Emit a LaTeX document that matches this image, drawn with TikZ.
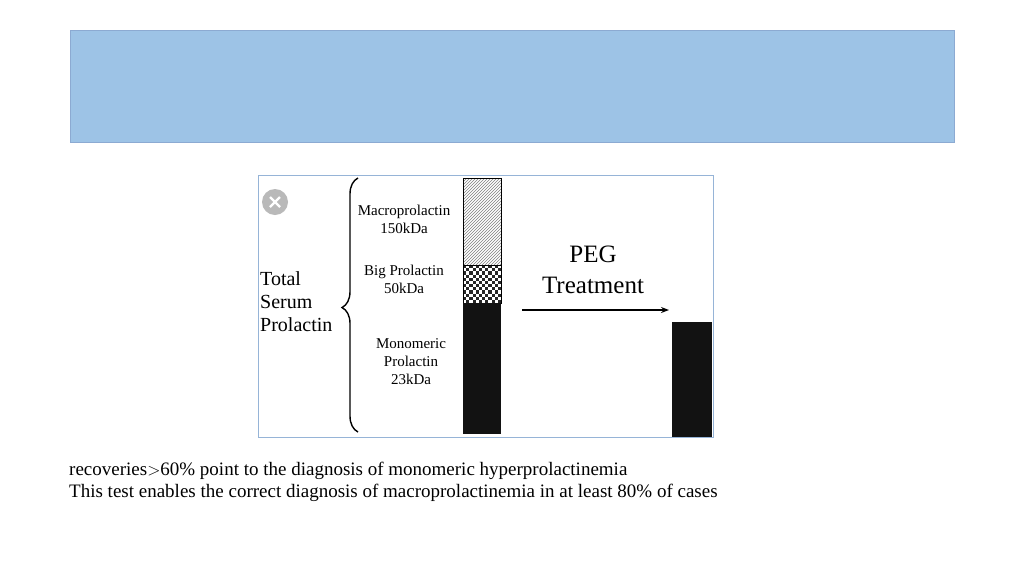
\documentclass[tikz,border=0pt]{standalone}
\usepackage{fontspec}
\setmainfont{Liberation Serif}
\usetikzlibrary{patterns,decorations.pathreplacing,arrows.meta}
\begin{document}
\begin{tikzpicture}[x=1pt,y=-1pt,
  lab/.style={align=center,font=\fontsize{15}{18}\selectfont,inner sep=0},
  big/.style={align=left,font=\fontsize{20}{23}\selectfont,inner sep=0,anchor=west}]
\path[use as bounding box] (0,0) rectangle (1024,576);
\fill[white] (0,0) rectangle (1024,576);
\node[draw={rgb,255:red,140;green,170;blue,210},minimum width=884,minimum height=112,anchor=north west,inner sep=0,fill={rgb,255:red,157;green,195;blue,230}] (banner) at (70,30) {};
\node[draw={rgb,255:red,150;green,180;blue,215},line width=1.2,minimum width=455,minimum height=262,anchor=north west,inner sep=0] (frame) at (258,175) {};
\fill[gray!55] (275,202) circle (13);
\draw[white,line width=2.2] (270,197) -- (280,207) (280,197) -- (270,207);
\node[big] (total) at (260,302) {Total\\Serum\\Prolactin};
\draw[decorate,decoration={brace,amplitude=16pt,aspect=0.49},line width=1.4] (358,432) -- (358,178);
\node[lab] (macro) at (404,219) {Macroprolactin\\150kDa};
\node[lab] (bigp) at (404,279) {Big Prolactin\\50kDa};
\node[lab] (mono) at (411,362) {Monomeric\\Prolactin\\23kDa};
\node[draw=black,pattern=north east lines,pattern color=gray,minimum width=38,minimum height=87,anchor=north west,inner sep=0] (hatch) at (463,178) {};
\fill[white] (463,265) rectangle (501,303);
\foreach \i in {0,...,11}{\foreach \j in {0,...,11}{
  \pgfmathparse{int(mod(\i+\j,2))}
  \ifnum\pgfmathresult=0 \fill[black!85] ({463+\i*38/12},{265+\j*38/12}) rectangle ++(38/12,38/12);\fi}}
\node[draw=black,minimum width=38,minimum height=38,anchor=north west,inner sep=0] (check) at (463,265) {};
\node[fill=black!93,minimum width=38,minimum height=131,anchor=north west,inner sep=0] (black1) at (463,303) {};
\node[align=center,font=\fontsize{25}{31}\selectfont,inner sep=0] (peg) at (593,270) {PEG\\Treatment};
\coordinate (a1) at (522,310);
\coordinate (a2) at (669,310);
\draw[line width=1.5,-{Stealth[length=8pt,width=6pt]}] (a1) -- (a2);
\node[fill=black!93,minimum width=40,minimum height=115,anchor=north west,inner sep=0] (black2) at (672,322) {};
\node[anchor=west,align=left,font=\fontsize{19}{22}\selectfont,inner sep=0] (txt) at (69,482) {recoveries$>$60\% point to the diagnosis of monomeric hyperprolactinemia\\This test enables the correct diagnosis of macroprolactinemia in at least 80\% of cases};
\end{tikzpicture}
\end{document}
